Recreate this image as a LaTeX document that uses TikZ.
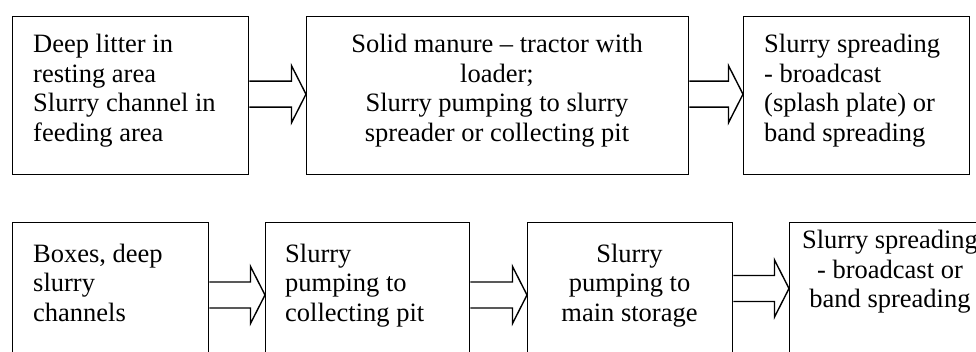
\documentclass[tikz,border=0pt]{standalone}
\usepackage{fontspec}
\setmainfont{Liberation Serif}
\usetikzlibrary{calc}

% hollow block arrow between two boxes: #1 start anchor, #2 end anchor, #3 vertical offset
\newcommand\flowarrow[3]{%
  \draw[blockarrow] let \p1=($(#1)+(0,#3)$), \p2=(#2) in
    (\x1,\y1+13pt) -- (\x2-14.5pt,\y1+13pt) -- (\x2-14.5pt,\y1+28.5pt)
    -- (\x2,\y1) -- (\x2-14.5pt,\y1-28.5pt) -- (\x2-14.5pt,\y1-13pt) -- (\x1,\y1-13pt);}

\begin{document}
\begin{tikzpicture}[x=1pt,y=-1pt,
  box/.style={draw, line width=1.4pt, rectangle, inner sep=0pt, anchor=north west},
  txt/.style={inner sep=0pt, font=\fontsize{26.5}{29.5}\selectfont},
  blockarrow/.style={draw, line width=1.4pt, line join=miter}]
\useasboundingbox (0,0) rectangle (976,352);
\clip (0,0) rectangle (976,352);

% upper process chain
\node[box, minimum width=236pt, minimum height=158pt] (t1) at (12,16) {};
\node[box, minimum width=382pt, minimum height=158pt] (t2) at (306,16) {};
\node[box, minimum width=226pt, minimum height=158pt] (t3) at (743,16) {};

\node[txt, anchor=north west, align=left] (t1text) at (33,34.4)
  {Deep litter in\\resting area\\Slurry channel in\\feeding area};
\node[txt, anchor=north, align=center] (t2text) at (497,34.4)
  {Solid manure -- tractor with\\loader;\\Slurry pumping to slurry\\spreader or collecting pit};
\node[txt, anchor=north west, align=left] (t3text) at (764,34.4)
  {Slurry spreading\\- broadcast\\(splash plate) or\\band spreading};

\flowarrow{t1.east}{t2.west}{-1.5}
\flowarrow{t2.east}{t3.west}{-1.5}

% lower process chain
\node[box, minimum width=196pt, minimum height=158pt] (b1) at (12,222) {};
\node[box, minimum width=204pt, minimum height=158pt] (b2) at (265,222) {};
\node[box, minimum width=205pt, minimum height=158pt] (b3) at (527,222) {};
\node[box, minimum width=202pt, minimum height=158pt] (b4) at (789,222) {};

\node[txt, anchor=north west, align=left] (b1text) at (33,243.5)
  {Boxes, deep\\slurry\\channels};
\node[txt, anchor=north west, align=left] (b2text) at (285,243.5)
  {Slurry\\pumping to\\collecting pit};
\node[txt, anchor=north, align=center] (b3text) at (629.5,243.5)
  {Slurry\\pumping to\\main storage};
\node[txt, anchor=north, align=center] (b4text) at (890,230)
  {Slurry spreading\\- broadcast or\\band spreading};

\flowarrow{b1.north east}{b2.west}{73}
\flowarrow{b2.north east}{b3.west}{73}
\flowarrow{b3.north east}{b4.west}{66.5}
\end{tikzpicture}
\end{document}
